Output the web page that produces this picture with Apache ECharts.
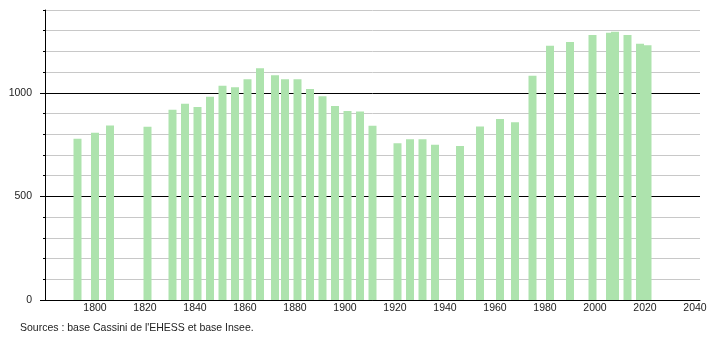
<!DOCTYPE html>
<html>
<head>
<meta charset="utf-8">
<script src="https://cdn.jsdelivr.net/npm/echarts@6/dist/echarts.min.js"></script>
<style>
html,body{margin:0;padding:0;background:#fff;}
#chart{width:710px;height:340px;}
</style>
</head>
<body>
<div id="chart"></div>
<script>
const years = [1793,1800,1806,1821,1831,1836,1841,1846,1851,1856,1861,1866,1872,1876,1881,1886,1891,1896,1901,1906,1911,1921,1926,1931,1936,1946,1954,1962,1968,1975,1982,1990,1999,2006,2008,2013,2018,2021];
const population = [778,808,842,836,918,948,932,981,1034,1027,1066,1119,1085,1066,1066,1019,984,936,912,910,841,757,776,776,749,744,837,874,858,1082,1227,1246,1279,1290,1295,1279,1237,1230];
const xTickLabels = [1800,1820,1840,1860,1880,1900,1920,1940,1960,1980,2000,2020,2040];
const yTickLabels = [0,500,1000];
const sourceText = "Sources : base Cassini de l'EHESS et base Insee.";

const FONT = "'Liberation Sans', Arial, sans-serif";
const chart = echarts.init(document.getElementById('chart'), null, {renderer: 'canvas'});
const option = {
  animation: false,
  backgroundColor: '#fff',
  grid: {left: 45, right: 10, top: 10, bottom: 40, containLabel: false},
  xAxis: {
    type: 'value', min: 1780, max: 2042, interval: 20,
    axisLine: {show: true, onZero: false, lineStyle: {color: '#000', width: 1}},
    axisTick: {show: false},
    splitLine: {show: false},
    axisLabel: {
      color: '#222', fontSize: 10.5, fontFamily: FONT, margin: 3,
      formatter: v => xTickLabels.indexOf(v) >= 0 ? String(v) : ''
    }
  },
  yAxis: [{
    type: 'value', min: 0, max: 1400, interval: 100,
    axisLine: {show: true, lineStyle: {color: '#000', width: 1}},
    axisTick: {show: true, length: 2, lineStyle: {color: '#000'}},
    splitLine: {show: true, lineStyle: {color: ['#000','#c8c8c8','#c8c8c8','#c8c8c8','#c8c8c8'], width: 1}},
    axisLabel: {
      color: '#222', fontSize: 10.5, fontFamily: FONT, margin: 13,
      formatter: v => yTickLabels.indexOf(v) >= 0 ? String(v) : ''
    }
  }, {
    type: 'value', min: 0, max: 1400, position: 'left',
    axisLine: {show: false},
    axisTick: {show: true, length: 5, customValues: yTickLabels, lineStyle: {color: '#000'}},
    axisLabel: {show: false},
    splitLine: {show: false}
  }],
  series: [{
    type: 'bar',
    barWidth: 8,
    itemStyle: {color: '#ade3ad'},
    data: years.map((y, i) => [y, population[i]])
  }],
  graphic: [{
    type: 'text', left: 20, top: 323,
    style: {text: sourceText, fill: '#222', font: '10.5px ' + FONT}
  }]
};
chart.setOption(option);
</script>
</body>
</html>
